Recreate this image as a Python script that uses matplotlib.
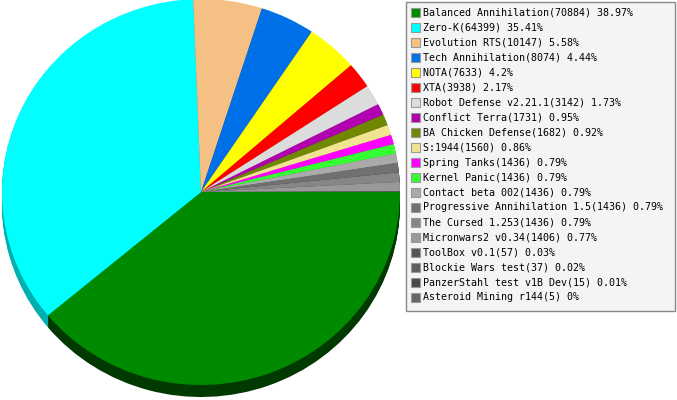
import matplotlib
matplotlib.use('Agg')
import matplotlib.pyplot as plt
from matplotlib.patches import Rectangle
from matplotlib.colors import to_rgb

# data
names = ["Balanced Annihilation", "Zero-K", "Evolution RTS", "Tech Annihilation",
         "NOTA", "XTA", "Robot Defense v2.21.1", "Conflict Terra",
         "BA Chicken Defense", "S:1944", "Spring Tanks", "Kernel Panic",
         "Contact beta 002", "Progressive Annihilation 1.5", "The Cursed 1.253",
         "Micronwars2 v0.34", "ToolBox v0.1", "Blockie Wars test",
         "PanzerStahl test v1B Dev", "Asteroid Mining r144"]
counts = [70884, 64399, 10147, 8074, 7633, 3938, 3142, 1731, 1682, 1560,
          1436, 1436, 1436, 1436, 1436, 1406, 57, 37, 15, 5]
colors = ["#008a00", "#00ffff", "#f4c084", "#0070e8", "#ffff00", "#ff0000",
          "#dcdcdc", "#b000b0", "#708800", "#f0e490", "#ff00ff", "#33ff33",
          "#aaaaaa", "#707070", "#868686", "#999999", "#555555", "#5e5e5e",
          "#4a4a4a", "#666666"]

W, H = 677, 400
fig = plt.figure(figsize=(W / 100, H / 100), dpi=100)

# pie: ellipse centre (201,192) px, rx 199, ry 193, depth 12 px
cx, cy, rx, ry, depth = 201, 192, 199, 193, 12
sx = ry / rx
ax = fig.add_axes([0, 0, 1, 1])

def darker(c):
    r, g, b = to_rgb(c)
    return tuple(max(0, v - 80 / 255) for v in (r, g, b))

dark = [darker(c) for c in colors]
for d in range(depth, 0, -1):
    ax.pie(counts, colors=dark, startangle=0, counterclock=False,
           center=(cx * sx, H - cy - d), radius=ry,
           wedgeprops=dict(linewidth=0), frame=True)
ax.pie(counts, colors=colors, startangle=0, counterclock=False,
       center=(cx * sx, H - cy), radius=ry,
       wedgeprops=dict(linewidth=0), frame=True)
# pie forces equal aspect; undo it so the pie becomes a slight ellipse
ax.set_aspect('auto')
ax.set_xlim(0, W * sx)
ax.set_ylim(0, H)
ax.axis('off')

# legend box drawn in pixel coords
lg = fig.add_axes([0, 0, 1, 1])
lg.set_xlim(0, W)
lg.set_ylim(H, 0)
lg.axis('off')
lg.add_patch(Rectangle((405.5, 1.5), 269, 309, facecolor="#f4f4f4",
                       edgecolor="#888888", linewidth=1))
total = sum(counts)
for i, (n, c, col) in enumerate(zip(names, counts, colors)):
    y = 12.5 + i * 15
    lg.add_patch(Rectangle((410.5, y - 4.5), 9, 9, facecolor=col,
                           edgecolor="#999999", linewidth=0.8))
    pct = round(c / total * 100, 2)
    lg.text(423, y, f"{n}({c}) {pct:g}%", fontsize=7.2,
            family="DejaVu Sans Mono", va="center", ha="left", color="black")

fig.savefig("out.png", dpi=100)
